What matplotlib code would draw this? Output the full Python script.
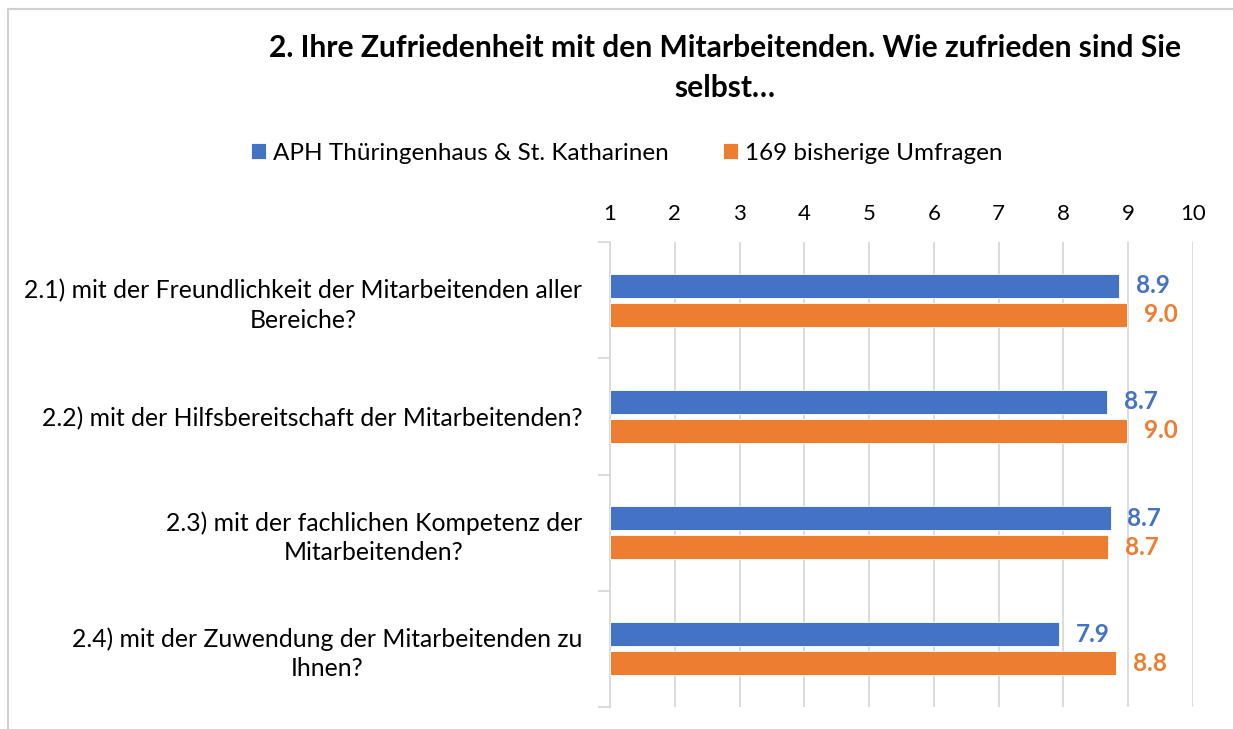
import numpy as np
import matplotlib.pyplot as plt
from matplotlib.lines import Line2D

plt.rcParams['font.family'] = ['Lato', 'DejaVu Sans']

# data
categories = ['2.1) mit der Freundlichkeit der Mitarbeitenden aller\nBereiche?',
              '2.2) mit der Hilfsbereitschaft der Mitarbeitenden?',
              '2.3) mit der fachlichen Kompetenz der\nMitarbeitenden?',
              '2.4) mit der Zuwendung der Mitarbeitenden zu\nIhnen?']
series_names = ['APH Thüringenhaus & St. Katharinen', '169 bisherige Umfragen']
aph = [8.86, 8.67, 8.73, 7.93]
bisher = [8.98, 8.98, 8.69, 8.81]
xticks = [1, 2, 3, 4, 5, 6, 7, 8, 9, 10]

blue = '#4472C4'
orange = '#ED7D31'
grid_col = '#D9D9D9'

fig = plt.figure(figsize=(12.33, 7.29), dpi=100)
ax = fig.add_axes([610/1233, 22/729, 583/1233, 465/729])

# chart border (only top and left edge visible in the crop)
fig.lines.append(Line2D([8/1233, 8/1233, 1], [0, 1 - 9/729, 1 - 9/729],
                        transform=fig.transFigure, color='#D0D0D0', lw=1.5))

y = np.arange(len(categories))
h = 0.205
off = 0.125
ax.barh(y - off, np.array(aph) - 1, left=1, height=h, color=blue,
        edgecolor='white', lw=0.6, zorder=3, label=series_names[0])
ax.barh(y + off, np.array(bisher) - 1, left=1, height=h, color=orange,
        edgecolor='white', lw=0.6, zorder=3, label=series_names[1])

for i in range(len(categories)):
    ax.annotate(f'{aph[i]:.1f}', (aph[i], y[i] - off), xytext=(12, 0),
                textcoords='offset points', va='center', ha='left',
                color=blue, fontsize=17.5, fontweight='bold')
    ax.annotate(f'{bisher[i]:.1f}', (bisher[i], y[i] + off), xytext=(12, 0),
                textcoords='offset points', va='center', ha='left',
                color=orange, fontsize=17.5, fontweight='bold')

ax.set_xlim(1, 10)
ax.set_ylim(len(categories) - 0.5, -0.5)
ax.set_xticks(xticks)
ax.xaxis.tick_top()
ax.tick_params(axis='x', length=0, pad=13, labelsize=16)
ax.grid(axis='x', color=grid_col, lw=1.3, zorder=0)

ax.set_yticks(np.arange(len(categories) + 1) - 0.5)
ax.set_yticklabels([])
ax.set_yticks(y, minor=True)
ax.set_yticklabels(categories, minor=True, fontsize=17.8,
                   multialignment='center', linespacing=1.33)
ax.tick_params(axis='y', which='major', length=9, color=grid_col, width=1.3)
ax.tick_params(axis='y', which='minor', length=0, pad=20)

for s in ['top', 'right', 'bottom']:
    ax.spines[s].set_visible(False)
ax.spines['left'].set_color(grid_col)
ax.spines['left'].set_linewidth(1.3)

fig.text(725/1233, 1 - 48/729, '2. Ihre Zufriedenheit mit den Mitarbeitenden. Wie zufrieden sind Sie',
         ha='center', va='center', fontsize=21.6, fontweight='bold')
fig.text(725/1233, 1 - 88/729, 'selbst…', ha='center', va='center',
         fontsize=21.6, fontweight='bold')

fig.legend(loc='center', bbox_to_anchor=(627/1233, 1 - 153/729), ncol=2,
           frameon=False, fontsize=17.5, handlelength=0.6, handleheight=0.6,
           handletextpad=0.3, columnspacing=2.25)

fig.savefig('out.png', dpi=100)
